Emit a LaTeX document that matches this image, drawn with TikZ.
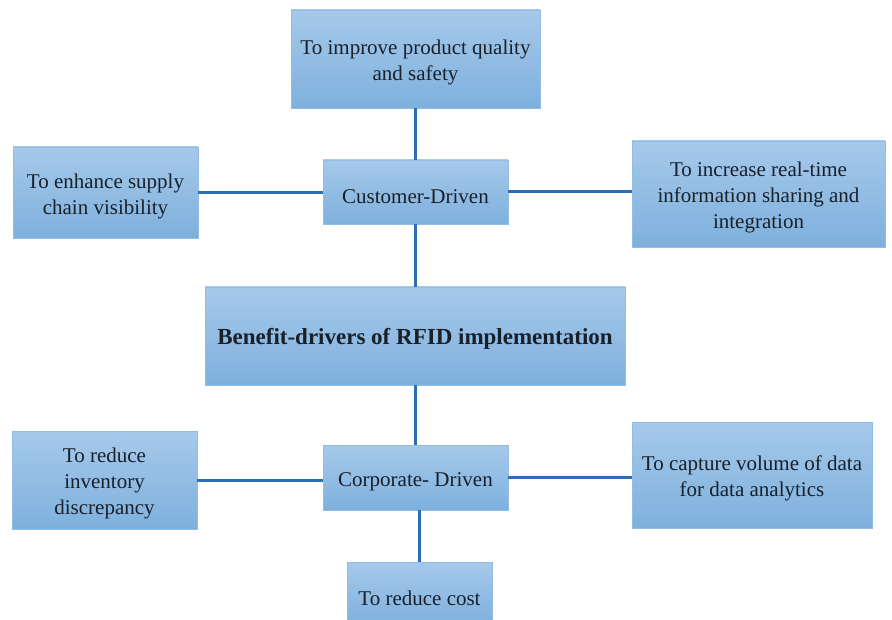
\documentclass[tikz,border=0pt]{standalone}
\usepackage{fontspec}
\setmainfont{Liberation Serif}
\definecolor{boxtop}{HTML}{A6C9EA}
\definecolor{boxbot}{HTML}{7EB0DD}
\definecolor{boxline}{HTML}{93BDE4}
\definecolor{linkc}{HTML}{2B6EB6}
\definecolor{txtc}{HTML}{18202A}
\newcommand\tstrut{\rule{0pt}{22.5pt}}
\tikzset{
  benefitbox/.style={rectangle, top color=boxtop, bottom color=boxbot, draw=boxline, line width=0.8pt,
    align=center, text=txtc, font=\fontsize{21}{26}\selectfont, inner sep=2pt},
  link/.style={draw=linkc, line width=3pt}
}
\begin{document}
\begin{tikzpicture}[x=1pt,y=-1pt]
\clip (0,0) rectangle (892,620);
\fill[white] (0,0) rectangle (892,620);
\node[benefitbox, minimum width=249pt, minimum height=98pt] (top) at (415.5,59) {\tstrut To improve product quality\\and safety};
\node[benefitbox, minimum width=185pt, minimum height=64pt] (cust) at (415.5,192) {\tstrut Customer-Driven};
\node[benefitbox, minimum width=185pt, minimum height=91pt] (enh) at (105.5,192.5) {\tstrut To enhance supply\\chain visibility};
\node[benefitbox, minimum width=253pt, minimum height=106pt] (inc) at (758.5,194) {\tstrut To increase real-time\\information sharing and\\integration};
\node[benefitbox, minimum width=420pt, minimum height=98pt, font=\bfseries\fontsize{23}{26}\selectfont] (main) at (415,336) {\tstrut Benefit-drivers of RFID implementation};
\node[benefitbox, minimum width=185pt, minimum height=65pt] (corp) at (415.5,477.5) {\tstrut Corporate- Driven};
\node[benefitbox, minimum width=185pt, minimum height=98pt] (inv) at (104.5,480) {\tstrut To reduce\\inventory\\discrepancy};
\node[benefitbox, minimum width=240pt, minimum height=106pt] (cap) at (752,475) {\tstrut To capture volume of data\\for data analytics};
\node[benefitbox, minimum width=145pt, minimum height=64pt] (cost) at (419.5,594) {\tstrut To reduce cost};
\draw[link] (top.south) -- (top.south |- cust.north);
\draw[link] (cust.south) -- (cust.south |- main.north);
\draw[link] (main.south) -- (main.south |- corp.north);
\draw[link] (cost.north) -- (cost.north |- corp.south);
\draw[link] (enh.east) -- (enh.east -| cust.west);
\draw[link] (cust.east) -- (cust.east -| inc.west);
\draw[link] (inv.east) -- (inv.east -| corp.west);
\draw[link] (corp.east) -- (corp.east -| cap.west);
\end{tikzpicture}
\end{document}
